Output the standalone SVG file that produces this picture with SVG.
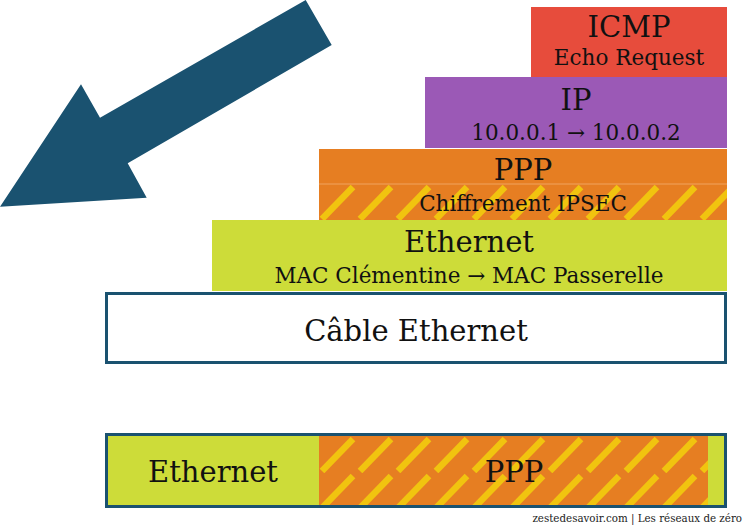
<svg xmlns="http://www.w3.org/2000/svg" width="744" height="525" viewBox="0 0 744 525">
<style>
text{font-family:"DejaVu Serif","Liberation Serif",serif;fill:#111;text-anchor:middle}
.big{font-size:29px}
.small{font-size:21.5px}
.foot{font-size:10.3px;text-anchor:end;fill:#222}
</style>
<defs>
<pattern id="stripeA" patternUnits="userSpaceOnUse" x="319" y="184" width="38" height="37">
<rect width="38" height="37" fill="#e67e22"/>
<line x1="3" y1="35" x2="34" y2="3" stroke="#f1c40f" stroke-width="6.5"/>
</pattern>
<pattern id="stripeB" patternUnits="userSpaceOnUse" x="319" y="436" width="38" height="37">
<rect width="38" height="37" fill="#e67e22"/>
<line x1="3" y1="35" x2="34" y2="3" stroke="#f1c40f" stroke-width="6.5"/>
</pattern>
</defs>
<g id="connectors">
<polygon points="305.7,0 331.7,45 127.7,163.3 146.7,197.7 0,206.7 81,84.3 100,117.7" fill="#1a5270"/>
</g>
<g id="icmp">
<rect x="531" y="7" width="196" height="70" fill="#e74c3c"/>
<text class="big" x="629" y="37">ICMP</text>
<text class="small" x="629" y="65">Echo Request</text>
</g>
<g id="ip">
<rect x="425" y="77" width="302" height="71" fill="#9b59b6"/>
<text class="big" x="576" y="110">IP</text>
<text class="small" x="576" y="140">10.0.0.1 → 10.0.0.2</text>
</g>
<g id="ppp">
<rect x="319" y="149" width="408" height="35" fill="#e67e22"/>
<rect x="319" y="184" width="408" height="36" fill="url(#stripeA)"/>
<line x1="319" y1="184" x2="727" y2="184" stroke="#f0a35e" stroke-width="1"/>
<text class="big" x="523" y="180">PPP</text>
<text class="small" x="523" y="211">Chiffrement IPSEC</text>
</g>
<g id="ethernet">
<rect x="212" y="220" width="515" height="71" fill="#cddc39"/>
<text class="big" x="469" y="252">Ethernet</text>
<text class="small" x="469" y="283">MAC Clémentine → MAC Passerelle</text>
</g>
<g id="cable">
<rect x="106.5" y="293.5" width="619" height="69" fill="#fff" stroke="#1a5270" stroke-width="3"/>
<text class="big" x="416" y="341">Câble Ethernet</text>
</g>
<g id="frame">
<rect x="105" y="433" width="622" height="75" fill="#cddc39"/>
<rect x="319" y="436" width="389" height="69" fill="url(#stripeB)"/>
<rect x="106.5" y="434.5" width="619" height="72" fill="none" stroke="#1a5270" stroke-width="3"/>
<text class="big" x="213" y="482">Ethernet</text>
<text class="big" x="514" y="482">PPP</text>
</g>
<text class="foot" x="742" y="522">zestedesavoir.com | Les réseaux de zéro</text>
</svg>
